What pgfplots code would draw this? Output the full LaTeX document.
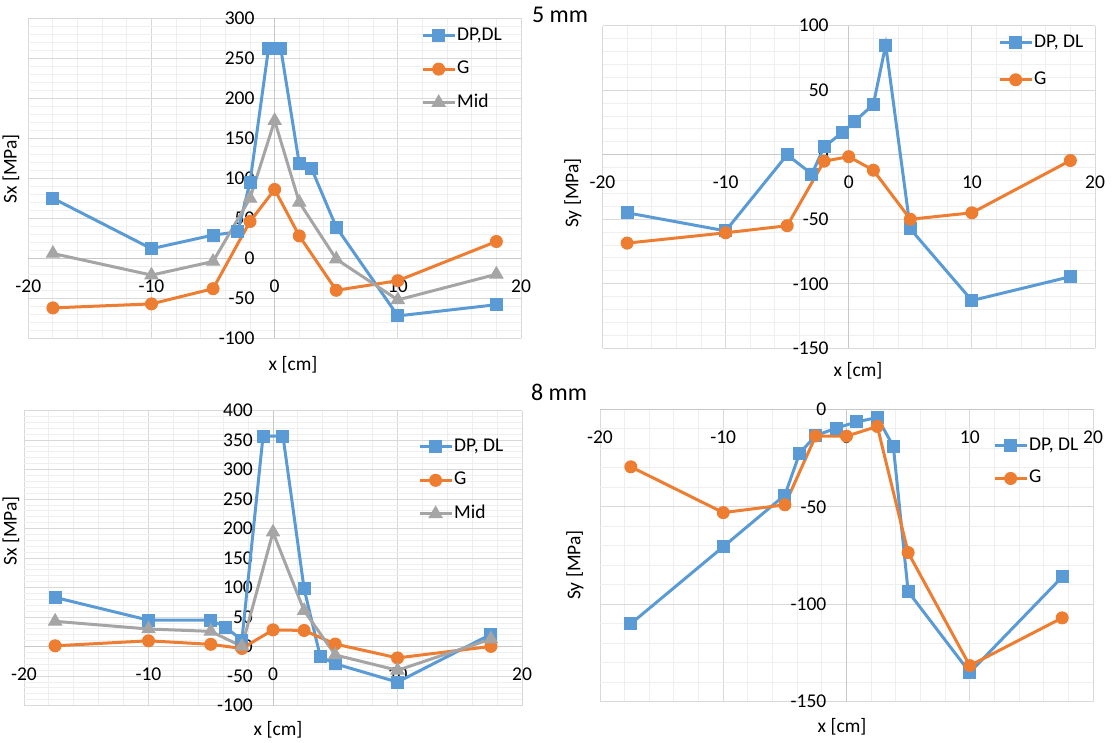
\documentclass[border=0pt]{standalone}
\usepackage{fontspec}
\setmainfont{Carlito}
\usepackage{pgfplots}
\pgfplotsset{compat=1.18}
\definecolor{cb}{HTML}{5B9BD5}
\definecolor{co}{HTML}{ED7D31}
\definecolor{cg}{HTML}{A5A5A5}
\definecolor{gridmaj}{HTML}{D9D9D9}
\definecolor{gridmin}{HTML}{EFEFEF}
\definecolor{axiscol}{HTML}{C8C8C8}
\newcommand\fs{\fontsize{19.5bp}{23bp}\selectfont}
\pgfplotsset{
 excel/.style={
  scale only axis, axis lines=middle, enlargelimits=false,
  axis line style={-, draw=axiscol, line width=1bp},
  grid=both,
  major grid style={draw=gridmaj, line width=1bp},
  minor grid style={draw=gridmin, line width=1bp},
  minor x tick num=4, minor y tick num=4,
  major tick length=0pt, minor tick length=0pt,
  hide obscured x ticks=false, hide obscured y ticks=false,
  xmin=-20, xmax=20, xtick={-20,-10,...,20},
  tick label style={font=\fs},
  /pgf/number format/assume math mode=true,
  xticklabel style={anchor=north, inner sep=0pt, yshift=-21bp},
  yticklabel style={anchor=east, inner sep=0pt, xshift=-20bp},
  legend cell align=left,
  legend style={draw=none, fill=none, font=\fs, anchor=north west, inner sep=0pt,
    nodes={inner sep=0pt, text height=13bp, text depth=4bp},
    /tikz/every odd column/.append style={column sep=1bp}},
  legend image code/.code={\draw[mark repeat=2,mark phase=2,#1] plot coordinates {(0bp,0bp) (16bp,0bp) (32bp,0bp)};},
 },
 sDP/.style={color=cb, line width=3bp, mark=square*, mark size=6bp, mark options={solid, line width=1bp, fill=cb}},
 sG/.style={color=co, line width=3bp, mark=*, mark size=6bp, mark options={solid, line width=1bp, fill=co}},
 sM/.style={color=cg, line width=3bp, mark=triangle*, mark size=7.5bp, mark options={solid, line width=1bp, fill=cg}},
}
\begin{document}
\begin{tikzpicture}[font=\fs]
\path[use as bounding box] (0,0) rectangle (1112bp,743bp);
% Panel 1
\begin{axis}[excel, at={(28.3bp,404.7bp)}, anchor=south west, width=492.7bp, height=320bp,
  ymin=-100, ymax=300, ytick={-100,-50,...,300},
  legend style={at={(axis description cs:0.797,0.973)}, row sep=16.5bp}]
\addplot[sDP] coordinates {(-18,75) (-10,12) (-5,29) (-3,33) (-2,95) (-0.5,262) (0.5,262) (2,118) (3,112) (5,39) (10,-72) (18,-58)};
\addlegendentry{DP,DL}
\addplot[sG] coordinates {(-18,-62) (-10,-57) (-5,-38) (-2,46) (0,86) (2,28) (5,-40) (10,-28) (18,21)};
\addlegendentry{G}
\addplot[sM] coordinates {(-18,6) (-10,-21) (-5,-4) (-2,75) (0,172) (2,70) (5,-1) (10,-52) (18,-20)};
\addlegendentry{Mid}
\end{axis}
% Panel 2
\begin{axis}[excel, at={(602.5bp,394.7bp)}, anchor=south west, width=492.5bp, height=322.6bp,
  ymin=-150, ymax=100, ytick={-150,-100,...,100},
  legend style={at={(axis description cs:0.803,0.974)}, row sep=20bp}]
\addplot[sDP] coordinates {(-18,-45) (-10,-59) (-5,0) (-3,-15) (-2,6) (-0.5,17.5) (0.5,26) (2,39) (3,85) (5,-57.5) (10,-113) (18,-94.5)};
\addlegendentry{DP, DL}
\addplot[sG] coordinates {(-18,-68.5) (-10,-60.5) (-5,-55) (-2,-5) (0,-1.5) (2,-12) (5,-50) (10,-45) (18,-4.5)};
\addlegendentry{G}
\end{axis}
% Panel 3
\begin{axis}[excel, at={(24bp,37.3bp)}, anchor=south west, width=498bp, height=295bp,
  ymin=-100, ymax=400, ytick={-100,-50,...,400},
  legend style={at={(axis description cs:0.791,0.907)}, row sep=16.5bp}]
\addplot[sDP] coordinates {(-17.5,83.5) (-10,45) (-5,45) (-3.8,33) (-2.5,11) (-0.8,357) (0.8,357) (2.5,98) (3.8,-17) (5,-29) (10,-60) (17.5,21)};
\addlegendentry{DP, DL}
\addplot[sG] coordinates {(-17.5,1.5) (-10,10) (-5,4) (-2.5,-3) (0,28.5) (2.5,27.5) (5,4.5) (10,-19) (17.5,0.5)};
\addlegendentry{G}
\addplot[sM] coordinates {(-17.5,43) (-10,30) (-5,26) (-2.5,0.5) (0,194) (2.5,61) (5,-14) (10,-40) (17.5,13)};
\addlegendentry{Mid}
\end{axis}
% Panel 4
\begin{axis}[excel, at={(600bp,41.3bp)}, anchor=south west, width=493bp, height=292.4bp,
  ymin=-150, ymax=0, ytick={-150,-100,...,0},
  legend style={at={(axis description cs:0.797,0.905)}, row sep=15.7bp}]
\addplot[sDP] coordinates {(-17.5,-110) (-10,-70.5) (-5,-44) (-3.8,-22.5) (-2.5,-13.5) (-0.8,-9.6) (0.8,-6.5) (2.5,-4.2) (3.8,-19) (5,-93.5) (10,-135) (17.5,-86)};
\addlegendentry{DP, DL}
\addplot[sG] coordinates {(-17.5,-29.5) (-10,-53) (-5,-49) (-2.5,-13.7) (0,-13.8) (2.5,-8.8) (5,-73.5) (10,-131.5) (17.5,-107)};
\addlegendentry{G}
\end{axis}
\node[rotate=90] at (11bp,574bp) {Sx [MPa]};
\node[rotate=90] at (573bp,550bp) {Sy [MPa]};
\node[rotate=90] at (11bp,212bp) {Sx [MPa]};
\node[rotate=90] at (575bp,178bp) {Sy [MPa]};
\node at (293bp,378bp) {x [cm]};
\node at (858bp,372bp) {x [cm]};
\node at (278bp,13bp) {x [cm]};
\node at (842bp,16bp) {x [cm]};
\node[font=\fontsize{24bp}{28bp}\selectfont] at (560bp,728bp) {5 mm};
\node[font=\fontsize{24bp}{28bp}\selectfont] at (559bp,351bp) {8 mm};
\end{tikzpicture}
\end{document}
